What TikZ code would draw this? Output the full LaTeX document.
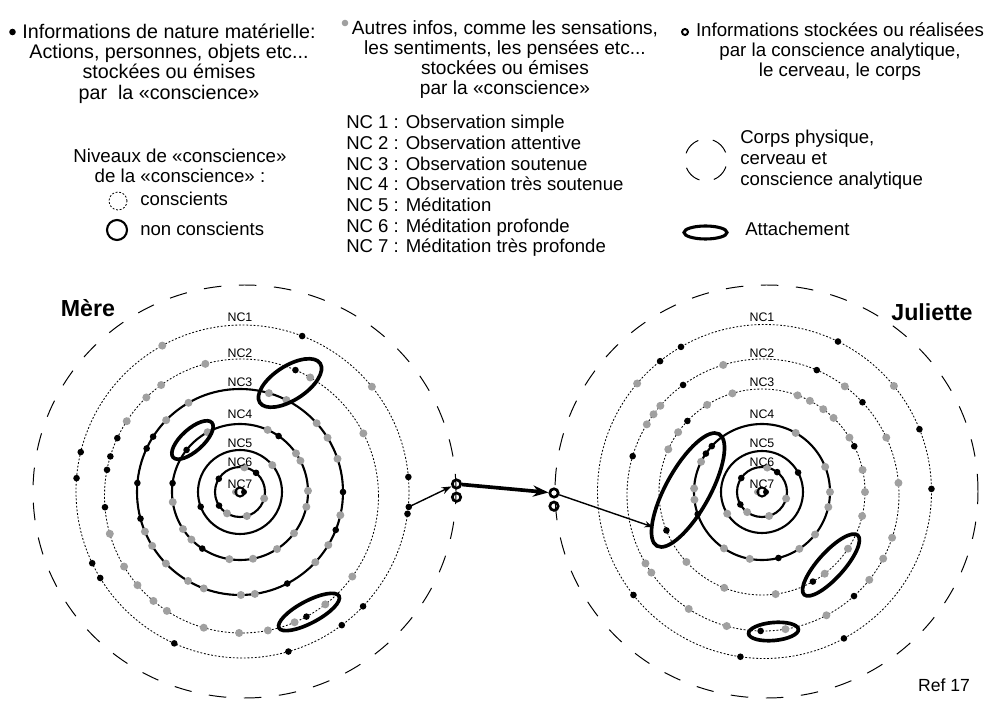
\documentclass[tikz,border=0pt]{standalone}
\usepackage{fontspec}
\setmainfont{Liberation Sans}
\usepackage{tikz}
\usetikzlibrary{arrows.meta,positioning}
\definecolor{dotgray}{HTML}{A0A0A0}

\begin{document}
\begin{tikzpicture}[x=0.025cm,y=0.025cm,
  txt/.style={inner sep=0pt,font=\fontsize{13.2}{14.7}\selectfont},
  hdr/.style={inner sep=0pt,align=center,font=\fontsize{14}{14.3}\selectfont},
  who/.style={inner sep=0pt,font=\fontsize{16.5}{18}\selectfont\bfseries},
  nclbl/.style={inner sep=0pt,anchor=base,font=\fontsize{8.8}{9}\selectfont},
  body/.style={line width=0.7pt,dash pattern=on 12.5pt off 12.5pt},
  cons/.style={line width=0.6pt,dash pattern=on 1.3pt off 1.3pt},
  ncons/.style={line width=1.5pt},
  attach/.style={line width=2.6pt},
  link/.style={circle,draw,line width=1.9pt,minimum size=0.21cm,inner sep=0pt},
  arr/.style={-{Stealth[length=7pt,width=5pt]},line width=1pt},
  bigarr/.style={-{Stealth[length=11pt,width=8pt]},line width=2.6pt},
  kdot/.style={fill=black},
  gdot/.style={fill=dotgray}
]
\useasboundingbox (0,0) rectangle (996,719);

% Legend
\fill (12.5,687) circle (3.3);
\node[hdr,anchor=north] (infmat) at (169,695) {Informations de nature matérielle:\\Actions, personnes, objets etc...\\stockées ou émises\\par\ \ la «conscience»};
\fill[gdot] (345,696) circle (3.3);
\node[hdr,anchor=north,font=\fontsize{13.6}{14.3}\selectfont] (infaut) at (505,699) {Autres infos, comme les sensations,\\les sentiments, les pensées etc...\\stockées ou émises\\par la «conscience»};
\draw[line width=1.4pt] (685,687) circle (3);
\node[hdr,anchor=north,font=\fontsize{13.3}{14.3}\selectfont] (infana) at (840,697) {Informations stockées ou réalisées\\par la conscience analytique,\\le cerveau, le corps};

\node[txt,align=center,anchor=north,font=\fontsize{13.3}{14.2}\selectfont] (niv) at (180,570) {Niveaux de «conscience»\\de la «conscience» :};
\draw[cons] (118,518) circle (9);
\node[txt,anchor=base west] (lcons) at (140,513) {conscients};
\draw[ncons] (117,489) circle (10);
\node[txt,anchor=base west] (lncons) at (140,483) {non conscients};

\node[txt,align=left,anchor=north west] (nclist) at (346,604) {NC 1 : Observation simple\\NC 2 : Observation attentive\\NC 3 : Observation soutenue\\NC 4 : Observation très soutenue\\NC 5 : Méditation\\NC 6 : Méditation profonde\\NC 7 : Méditation très profonde};

\draw[line width=0.7pt,dash pattern=on 13pt off 10.5pt,dash phase=18pt] (706,559) circle (21);
\node[txt,align=left,anchor=north west,font=\fontsize{13.2}{15}\selectfont] (corps) at (740,589) {Corps physique,\\cerveau et\\conscience analytique};
\draw[line width=2.2pt] (705.5,486.5) ellipse (21.5 and 6.5);
\node[txt,anchor=base west] (latt) at (745,483) {Attachement};

% Centres
\coordinate (m)  at (240,227);
\coordinate (m0) at (244.5,227.5);
\coordinate (m1) at (242.5,227.5);
\coordinate (m2) at (241.5,223);
\coordinate (j)  at (762,227);
\coordinate (j0) at (766.5,227.5);
\coordinate (j1) at (764.5,227.5);
\coordinate (j2) at (763,224);

% Mere
\draw[body] (m0) ellipse (211.5 and 206.5);
\draw[cons] (m1) circle (166.5);
\draw[cons] (m2) circle (137);
\foreach \r in {103,68,42,25}
  \draw[ncons] (m) circle (\r);

\foreach \a in {69,166.3,175.4,205.5,211.3,245.8,5,-7.7,-43.6,-53.4,-74}
  \fill[kdot] ([shift={(\a:166.5)}]m1) circle (3.3);
\foreach \a in {118.8,39}
  \fill[gdot] ([shift={(\a:166.5)}]m1) circle (4);
\foreach \a in {66.8,155,163.2,169,184.7,-61.7}
  \fill[kdot] ([shift={(\a:137)}]m2) circle (3.3);
\foreach \a in {105.3,125.9,134,146.9,196,211,220.6,230,237,254,269,-78.9,-67.2,-52.3,-36,27.2,59.9}
  \fill[gdot] ([shift={(\a:137)}]m2) circle (4);
\foreach \a in {147.5,155,175,0,-21.6,-62.7,195}
  \fill[kdot] ([shift={(\a:103)}]m) circle (3.3);
\foreach \a in {120,135.8,73.7,63.2,41.9,31.8,18.8,-13,-31,-43,-81.7,-89.5,202.6,211.5,224,239.7,249.4}
  \fill[gdot] ([shift={(\a:103)}]m) circle (4);
\foreach \a in {141.8,55.4,172.5,236.3}
  \fill[kdot] ([shift={(\a:68)}]m) circle (3.3);
\foreach \a in {118.5,66,34.6,27.3,1,-12.6,-37.4,-57,-79,188.5,213,224.4,261}
  \fill[gdot] ([shift={(\a:68)}]m) circle (4);
\fill[kdot] ([shift={(200.6:42)}]m) circle (3.3);
\fill[gdot] ([shift={(39.8:42)}]m) circle (4);
\foreach \a in {50,148,213}
  \fill[kdot] ([shift={(\a:25)}]m) circle (3.3);
\foreach \a in {80,-15,238.7,-74}
  \fill[gdot] ([shift={(\a:25)}]m) circle (4);
\fill[gdot] ([shift={(180:5)}]m) circle (3);
\draw[line width=1.5pt] (m) circle (4.5);
\fill[kdot] ([shift={(0:4)}]m) circle (3);

\coordinate (msrc) at ([shift={(-5.3:167)}]m1);
\fill[kdot] (msrc) circle (3.3);

\draw[attach,rotate around={33:(290,336)}] (290,336) ellipse (36 and 17);
\draw[attach,rotate around={42:(192.5,279)}] (192.5,279) ellipse (26 and 11);
\draw[attach,rotate around={28:(309,107)}] (309,107) ellipse (34 and 11);

% Juliette
\draw[body] (j0) ellipse (211.5 and 206.5);
\draw[cons] (j1) circle (167);
\draw[cons] (j2) circle (136);
\draw[cons] (j) circle (103);
\foreach \r in {68,41,25}
  \draw[ncons] (j) circle (\r);

\foreach \a in {120,128.7,63.9,21.9,0.9,-61.6,261.7,218.3}
  \fill[kdot] ([shift={(\a:167)}]j1) circle (3.3);
\foreach \a in {139.7,39.2}
  \fill[gdot] ([shift={(\a:167)}]j1) circle (4);
\foreach \a in {66.7,126,43,163.4,-48,-91}
  \fill[kdot] ([shift={(\a:136)}]j2) circle (3.3);
\foreach \a in {107,139,143.6,148.7,53,25,5.1,-18.3,-27.9,-38.6,-62.2,-80.5,254.5,236.9,210.2,214.8}
  \fill[gdot] ([shift={(\a:136)}]j2) circle (4);
\foreach \a in {26.4,136.4,201.9,-60.4}
  \fill[kdot] ([shift={(\a:103)}]j) circle (3.3);
\foreach \a in {122.2,106.7,69.8,62.3,53.5,46,31.9,144.5,155.5,12.4,0,-13.5,-33.4,-52.5,222.8,248.5,-82.4}
  \fill[gdot] ([shift={(\a:103)}]j) circle (4);
\foreach \a in {137.6,145.6,199,-76}
  \fill[kdot] ([shift={(\a:68)}]j) circle (3.3);
\foreach \a in {60.3,153.6,177,186.5,236,259.6,-56.7,-38.7,-12.8,0,21.7}
  \fill[gdot] ([shift={(\a:68)}]j) circle (4);
\fill[kdot] ([shift={(28.3:41)}]j) circle (3.3);
\fill[gdot] ([shift={(211.9:41)}]j) circle (4);
\foreach \a in {52.6,146,210}
  \fill[kdot] ([shift={(\a:25)}]j) circle (3.3);
\foreach \a in {233.6,-73.5,-15.3,78}
  \fill[gdot] ([shift={(\a:25)}]j) circle (4);
\fill[gdot] ([shift={(180:5)}]j) circle (3);
\draw[line width=1.5pt] (j) circle (4.5);
\fill[kdot] ([shift={(0:4)}]j) circle (3);

\draw[attach,rotate around={61:(688,229)}] (688,229) ellipse (64 and 22);
\draw[attach,rotate around={48:(831,154)}] (831,154) ellipse (40 and 13);
\draw[attach,rotate around={5:(773.5,87.5)}] (773.5,87.5) ellipse (25 and 9);

% Ring labels
\foreach \n/\y in {1/322,2/358,3/387,4/419,5/448,6/467,7/489} {
  \node[nclbl] (mnc\n) at (240,719-\y) {NC\n};
  \node[nclbl] (jnc\n) at (762,719-\y) {NC\n};
}

\node[who] (mere) at (88,411) {Mère};
\node[who] (juliette) at (932,407) {Juliette};
\node[txt,font=\fontsize{12.5}{14}\selectfont] (ref) at (944,34) {Ref 17};

% Links
\node[link] (lk1) at (456.5,235) {};
\node[link,below=1.5pt of lk1] (lk2) {};
\node[link] (lk3) at (554,226) {};
\node[link,below=1.5pt of lk3] (lk4) {};
\coordinate (jtip) at (653,192);

\draw[arr] (msrc) -- (lk1);
\draw[bigarr] (lk1) -- (lk3);
\draw[arr,-{Stealth[length=6pt,width=4.5pt]}] (lk3) -- (jtip);

\end{tikzpicture}
\end{document}
